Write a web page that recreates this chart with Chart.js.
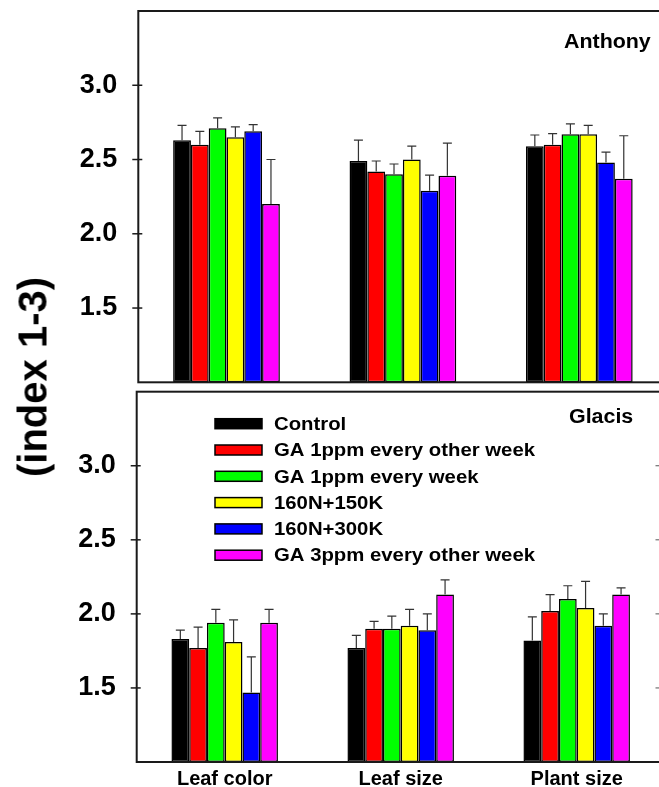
<!DOCTYPE html>
<html>
<head>
<meta charset="utf-8">
<title>Anthony / Glacis index</title>
<script src="https://cdn.jsdelivr.net/npm/chart.js@4.4.1/dist/chart.umd.min.js"></script>
<style>
  html, body { margin: 0; padding: 0; background: #fff; overflow: hidden; }
  body { width: 659px; height: 787px; position: relative; }
  canvas { position: absolute; left: 0; }
  #top { top: 0; }
  #bottom { top: 380px; }
  #ytitle {
    position: absolute; left: 33px; top: 377px;
    transform: translate(-50%, -50%) rotate(-90deg);
    font: bold 40px "Liberation Sans", Arial, sans-serif;
    white-space: nowrap; color: #000;
  }
</style>
</head>
<body>
<canvas id="top" width="700" height="392"></canvas>
<canvas id="bottom" width="700" height="407"></canvas>
<div id="ytitle">(index 1-3)</div>
<script>
const categories = ["Leaf color", "Leaf size", "Plant size"];
const seriesNames = ["Control", "GA 1ppm every other week", "GA 1ppm every week",
                     "160N+150K", "160N+300K", "GA 3ppm every other week"];
const seriesColors = ["#000000", "#ff0000", "#00ff00", "#ffff00", "#0000ff", "#ff00ff"];
const yTicks = [1.5, 2.0, 2.5, 3.0];

// Anthony (means, one value per category)
const antControl = [2.63, 2.49, 2.59];
const antGA1Other = [2.60, 2.42, 2.60];
const antGA1Week = [2.71, 2.40, 2.67];
const ant150K = [2.65, 2.50, 2.67];
const ant300K = [2.69, 2.29, 2.48];
const antGA3Other = [2.20, 2.39, 2.37];
// Anthony error bars (upper only)
const antControlErr = [0.10, 0.14, 0.075];
const antGA1OtherErr = [0.09, 0.07, 0.075];
const antGA1WeekErr = [0.07, 0.07, 0.07];
const ant150KErr = [0.07, 0.09, 0.06];
const ant300KErr = [0.045, 0.105, 0.07];
const antGA3OtherErr = [0.30, 0.22, 0.29];

// Glacis
const glaControl = [1.83, 1.77, 1.82];
const glaGA1Other = [1.77, 1.90, 2.02];
const glaGA1Week = [1.94, 1.90, 2.10];
const gla150K = [1.81, 1.92, 2.04];
const gla300K = [1.47, 1.89, 1.92];
const glaGA3Other = [1.94, 2.13, 2.13];
const glaControlErr = [0.06, 0.085, 0.16];
const glaGA1OtherErr = [0.14, 0.05, 0.11];
const glaGA1WeekErr = [0.09, 0.085, 0.09];
const gla150KErr = [0.15, 0.11, 0.18];
const gla300KErr = [0.24, 0.11, 0.08];
const glaGA3OtherErr = [0.09, 0.10, 0.045];

const FONT = '"Liberation Sans", Arial, sans-serif';

function makeDatasets(means, errs) {
    return means.map((m, i) => ({
        label: seriesNames[i],
        data: m,
        errors: errs[i],
        backgroundColor: seriesColors[i],
        borderColor: "#000",
        borderWidth: 1.5,
        borderSkipped: false,
        base: 1,
        categoryPercentage: 0.605,
        barPercentage: 1.0
    }));
}

// upper error bars on top of each bar
const errorBars = {
    id: "errorBars",
    afterDatasetsDraw(chart) {
        const ctx = chart.ctx;
        const y = chart.scales.y;
        ctx.save();
        ctx.strokeStyle = "#333";
        ctx.lineWidth = 1.2;
        chart.data.datasets.forEach((ds, i) => {
            chart.getDatasetMeta(i).data.forEach((bar, j) => {
                const top = y.getPixelForValue(ds.data[j] + ds.errors[j]);
                ctx.beginPath();
                ctx.moveTo(bar.x, bar.y);
                ctx.lineTo(bar.x, top);
                ctx.moveTo(bar.x - 4.5, top);
                ctx.lineTo(bar.x + 4.5, top);
                ctx.stroke();
            });
        });
        ctx.restore();
    }
};

// text slightly widened, like the original figure
function wideText(ctx, text, x, y, stretch) {
    ctx.save();
    ctx.translate(x, y);
    ctx.scale(stretch, 1);
    ctx.fillText(text, 0, 0);
    ctx.restore();
}

// frame, tick marks, panel name and (optionally) legend
function panelDecor(opts) {
    return {
        id: "panelDecor",
        afterDraw(chart) {
            const ctx = chart.ctx;
            const a = chart.chartArea;
            const y = chart.scales.y;
            ctx.save();
            ctx.strokeStyle = "#1a1a1a";
            ctx.lineWidth = 2;
            ctx.strokeRect(a.left, a.top, a.right - a.left, a.bottom - a.top);

            ctx.lineWidth = 1.5;
            yTicks.forEach(v => {
                const py = y.getPixelForValue(v);
                ctx.beginPath();
                ctx.moveTo(a.left - 6, py);
                ctx.lineTo(a.left + 4, py);
                ctx.stroke();
                if (opts.rightTicks) {
                    ctx.beginPath();
                    ctx.lineWidth = 1;
                    ctx.strokeStyle = "#555";
                    ctx.moveTo(655.5, py);
                    ctx.lineTo(659, py);
                    ctx.stroke();
                    ctx.lineWidth = 1.5;
                    ctx.strokeStyle = "#1a1a1a";
                }
            });

            ctx.fillStyle = "#000";
            ctx.font = "bold 20px " + FONT;
            ctx.textAlign = "left";
            ctx.textBaseline = "alphabetic";
            wideText(ctx, opts.name, opts.nameX, opts.nameY, 1.07);

            if (opts.legend) {
                ctx.font = "bold 19px " + FONT;
                ctx.textBaseline = "middle";
                seriesNames.forEach((name, i) => {
                    const cy = 43.7 + i * 26.3;
                    ctx.fillStyle = seriesColors[i];
                    ctx.fillRect(215, cy - 5, 47, 10);
                    ctx.strokeStyle = "#000";
                    ctx.lineWidth = 1.5;
                    ctx.strokeRect(215, cy - 5, 47, 10);
                    ctx.fillStyle = "#000";
                    wideText(ctx, name, 274, cy + 1, 1.07);
                });
            }
            ctx.restore();
        }
    };
}

function makeChart(id, means, errs, opts) {
    return new Chart(document.getElementById(id), {
        type: "bar",
        data: { labels: categories, datasets: makeDatasets(means, errs) },
        options: {
            responsive: false,
            animation: false,
            layout: { padding: opts.padding },
            plugins: { legend: { display: false }, tooltip: { enabled: false } },
            scales: {
                x: {
                    display: opts.showX,
                    grid: { display: false, drawTicks: false },
                    border: { display: false },
                    ticks: { color: "#000", padding: 5, font: { family: FONT, size: 20, weight: "bold" } },
                    afterFit: s => {
                        s.height = opts.showX ? 25 : 0;
                        s.paddingLeft = 0;
                        s.paddingRight = 0;
                    }
                },
                y: {
                    min: 1,
                    max: 3.5,
                    grid: { display: false, drawTicks: false },
                    border: { display: false },
                    afterBuildTicks: s => { s.ticks = yTicks.map(v => ({ value: v })); },
                    ticks: {
                        color: "#000",
                        padding: 21,
                        font: { family: FONT, size: 27, weight: "bold" },
                        callback: v => Number(v).toFixed(1)
                    },
                    afterFit: s => { s.width = opts.left; s.paddingTop = 0; s.paddingBottom = 0; }
                }
            }
        },
        plugins: [errorBars, panelDecor(opts)]
    });
}

makeChart("top",
    [antControl, antGA1Other, antGA1Week, ant150K, ant300K, antGA3Other],
    [antControlErr, antGA1OtherErr, antGA1WeekErr, ant150KErr, ant300KErr, antGA3OtherErr],
    { showX: false, left: 138.3, padding: { top: 11, bottom: 9.7, right: 32.5, left: 0 },
      name: "Anthony", nameX: 564, nameY: 47.7, legend: false, rightTicks: false });

makeChart("bottom",
    [glaControl, glaGA1Other, glaGA1Week, gla150K, gla300K, glaGA3Other],
    [glaControlErr, glaGA1OtherErr, glaGA1WeekErr, gla150KErr, gla300KErr, glaGA3OtherErr],
    { showX: true, left: 136.7, padding: { top: 11.7, bottom: 0, right: 35.3, left: 0 },
      name: "Glacis", nameX: 569, nameY: 43.3, legend: true, rightTicks: true });
</script>
</body>
</html>
